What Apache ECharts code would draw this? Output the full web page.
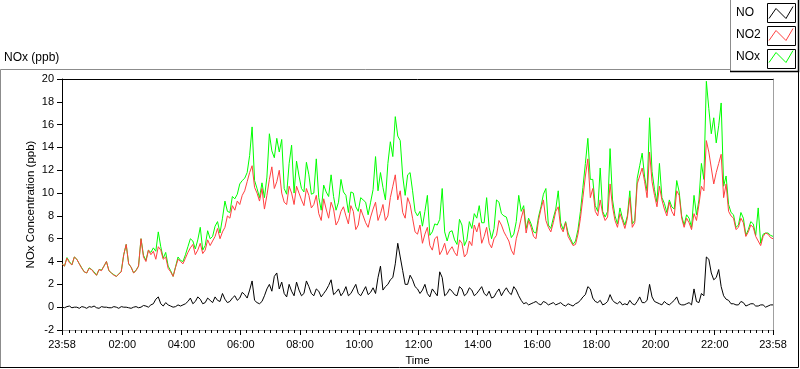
<!DOCTYPE html>
<html><head><meta charset="utf-8">
<script src="https://cdn.jsdelivr.net/npm/echarts@6/dist/echarts.min.js"></script>
<style>html,body{margin:0;padding:0;background:#fff}#c{width:800px;height:369px}</style>
</head><body><div id="c"></div>
<script>
// ---- data (one sample every 5 minutes, 23:58 -> 23:58) ----
const sampleStart = '23:58';
const sampleStepMinutes = 5;

const noValues = [
0.0,
-0.05,0.05,0.1,-0.05,0.0,0.0,-0.1,0.05,0.0,-0.1,0.05,0.0,
0.1,-0.05,-0.1,0.05,0.0,0.0,-0.05,-0.05,0.05,0.0,-0.1,0.05,
0.0,0.0,-0.05,-0.1,0.0,0.05,-0.05,0.0,0.15,0.1,0.0,0.2,
0.3,0.7,0.9,0.3,0.1,0.4,0.2,0.1,0.0,0.05,0.2,0.1,
0.2,0.3,0.5,0.8,0.3,0.5,0.9,0.7,0.3,0.4,0.8,0.6,
0.4,0.9,0.6,0.5,1.2,0.7,0.4,0.5,0.8,1.0,0.6,0.8,
1.3,1.1,0.8,1.5,2.3,0.6,0.4,0.3,0.5,1.0,1.6,2.0,
1.4,2.7,3.0,1.6,2.2,1.2,0.9,2.0,1.4,1.0,2.2,1.5,
1.0,1.2,2.3,1.8,1.2,1.0,1.6,1.4,0.9,1.2,1.5,1.9,
2.4,1.1,1.3,1.6,1.0,1.3,1.8,1.0,1.2,1.6,2.0,1.2,
1.0,1.4,1.8,1.1,1.3,1.7,1.2,2.6,3.6,1.5,1.8,2.0,
2.4,2.6,3.8,5.6,4.4,3.2,2.0,2.0,2.8,2.4,1.8,1.6,
1.2,1.5,2.0,1.2,0.9,1.6,1.3,1.0,3.1,2.6,1.0,1.2,
1.6,1.4,1.1,1.0,1.8,1.6,1.0,1.2,1.7,1.5,1.0,1.2,
1.5,1.8,1.2,1.0,1.4,0.8,0.9,1.3,1.6,1.0,1.4,1.7,
1.3,1.1,1.8,1.5,1.0,0.6,0.3,0.4,0.2,0.3,0.4,0.5,
0.3,0.2,0.5,0.4,0.2,0.3,0.4,0.2,0.3,0.4,0.2,0.1,
0.3,0.2,0.1,0.3,0.4,0.6,0.9,1.1,1.8,1.6,0.8,0.5,
0.4,0.6,0.2,0.3,0.5,1.1,0.6,0.4,0.3,0.5,0.2,0.3,
0.2,0.6,0.3,0.2,0.5,0.9,0.4,0.4,0.6,2.0,0.9,0.5,
0.4,0.3,0.2,0.5,0.3,0.2,0.4,0.6,0.9,0.3,0.2,0.2,
0.3,0.4,0.2,1.6,0.5,0.4,1.2,1.0,4.4,4.2,3.0,2.4,
2.6,3.3,1.8,1.0,0.7,0.6,0.3,0.3,0.2,0.2,0.5,0.4,
0.1,0.2,0.3,0.3,0.1,0.1,0.2,0.2,0.0,0.1,0.2,0.2];

const no2Values = [
3.8,
3.6,4.3,3.9,3.7,4.4,4.2,3.8,3.4,3.1,3.0,3.4,3.3,
3.0,2.8,3.3,3.2,3.6,4.0,3.2,3.0,2.8,2.7,2.9,3.1,
4.6,5.5,3.8,3.5,3.0,3.2,3.6,6.0,4.4,4.0,5.0,4.6,
4.9,4.2,5.3,5.0,4.2,4.4,3.4,3.1,2.7,3.5,4.2,4.0,
3.8,4.3,4.8,5.2,5.5,4.6,5.0,5.6,4.7,5.0,5.9,5.4,
5.8,6.2,6.9,6.0,6.6,7.0,8.0,7.8,8.9,8.5,9.3,9.0,
9.8,10.2,11.0,11.8,12.4,10.5,10.0,9.3,10.4,8.6,9.8,11.2,
12.3,10.4,11.0,12.0,10.0,9.2,9.0,10.6,10.0,9.0,10.6,10.0,
9.4,8.9,10.4,9.8,8.7,9.0,9.8,8.2,7.6,9.5,8.6,7.8,
9.2,8.6,7.2,7.6,8.4,8.8,8.0,7.3,8.9,8.4,6.8,7.2,
8.6,8.0,7.4,7.0,7.9,8.6,9.2,7.6,8.2,9.0,7.6,8.0,
9.6,10.6,11.6,9.4,10.2,8.3,7.8,9.6,9.0,7.8,6.6,6.4,
7.2,5.6,6.4,7.0,5.4,5.0,6.0,6.2,4.6,5.0,5.6,4.6,
5.0,5.3,4.8,4.5,5.9,5.6,4.4,4.7,5.8,5.4,7.2,6.6,
7.4,5.6,6.2,7.0,5.6,5.2,6.0,6.3,7.6,7.2,6.6,6.2,
5.8,5.0,4.6,6.0,6.8,7.8,8.6,6.5,7.6,7.0,6.2,6.0,
7.6,8.6,9.4,7.6,7.0,6.6,7.4,8.4,8.8,7.0,6.6,7.4,
6.2,5.8,5.4,5.5,6.4,7.8,9.6,11.5,13.0,9.6,10.4,8.4,
8.0,9.4,8.2,7.6,7.9,10.8,8.8,7.6,7.0,8.2,7.6,6.9,
7.8,9.6,7.0,7.4,10.8,11.5,12.2,11.0,9.6,13.6,11.0,9.8,
8.8,10.6,9.4,8.6,8.0,9.2,8.4,8.0,10.2,9.8,7.8,7.0,
7.8,7.4,6.8,8.2,7.6,9.0,10.6,10.2,14.6,13.6,12.2,10.8,
11.8,12.6,13.4,9.6,10.8,8.4,8.0,7.8,6.8,7.0,7.8,7.4,
6.2,6.6,7.2,7.0,6.2,5.8,5.4,6.2,6.5,6.4,6.1,6.0];

const noxValues = [
3.8,
3.6,4.35,4.0,3.7,4.4,4.2,3.8,3.45,3.1,3.0,3.45,3.3,
3.1,2.8,3.3,3.25,3.6,4.0,3.2,3.0,2.85,2.7,2.9,3.15,
4.6,5.5,3.8,3.5,3.0,3.25,3.6,6.0,4.55,4.1,5.0,4.8,
5.2,4.9,6.6,5.3,4.3,4.8,3.6,3.2,2.7,3.55,4.4,4.1,
4.0,4.6,5.3,6.0,5.8,5.1,5.9,7.0,5.0,5.4,6.7,6.0,
6.2,7.1,7.5,6.5,7.8,9.3,8.4,8.3,9.7,9.5,9.9,10.8,
11.1,11.3,11.8,13.3,15.8,11.1,10.4,9.6,10.9,9.6,11.4,15.2,
13.7,13.1,14.8,13.6,14.7,10.4,9.9,12.6,14.2,10.0,12.8,11.5,
10.4,10.1,12.7,11.6,9.9,10.0,13.0,9.6,8.5,10.7,10.1,9.7,
11.6,9.7,8.5,9.2,11.2,10.1,9.8,8.3,10.1,10.0,8.8,8.4,
9.6,9.4,9.2,8.1,9.2,10.3,13.2,10.2,11.8,10.5,9.4,12.6,
14.5,13.2,16.7,15.0,14.6,11.5,9.8,11.6,11.8,10.2,8.4,8.0,
8.4,7.1,8.4,9.8,6.3,6.6,7.3,7.2,7.7,10.4,6.6,5.8,
6.6,6.7,5.9,5.5,7.7,7.2,5.4,5.9,7.5,6.9,8.2,7.8,
8.9,7.4,7.4,9.6,7.0,6.0,6.9,9.4,9.2,8.2,8.0,7.9,
7.1,6.1,6.4,7.5,9.8,8.4,8.9,6.9,7.8,7.3,6.6,6.5,
7.9,8.8,9.9,10.4,7.2,6.9,7.8,8.6,10.2,7.4,6.8,7.5,
6.5,6.0,5.5,5.8,6.8,8.4,10.5,12.6,14.8,11.2,11.2,8.9,
8.4,12.2,8.4,7.9,8.4,13.9,9.4,8.0,7.3,8.7,7.8,7.2,
8.0,10.2,7.3,7.6,11.3,12.4,13.5,11.4,10.2,16.6,11.9,10.3,
9.2,12.6,9.6,9.1,8.3,9.4,8.8,8.6,11.1,10.1,8.0,7.2,
8.1,7.8,7.0,9.8,8.1,9.4,12.6,11.2,19.8,17.4,15.2,16.6,
14.4,15.9,17.9,10.6,11.5,9.0,8.3,8.1,7.0,7.2,8.3,7.8,
6.3,6.8,7.5,7.3,6.3,8.7,5.6,6.4,6.5,6.5,6.3,6.2];

const seriesNames = ['NO', 'NO2', 'NOx'];
const timeTickLabels = ['23:58','02:00','04:00','06:00','08:00','10:00','12:00','14:00','16:00','18:00','20:00','22:00','23:58'];
const minorTickStepMinutes = 12;

// ---- helpers ----
function toMinuteAxis(labels) {
  // clock labels -> minutes relative to midnight of the plotted day (first label belongs to previous day)
  let offset = -1440, prev = -Infinity;
  return labels.map(function (lab) {
    const p = lab.split(':');
    const v = (+p[0]) * 60 + (+p[1]);
    if (v < prev) offset += 1440;
    prev = v;
    return v + offset;
  });
}
const majorTicks = toMinuteAxis(timeTickLabels);
const xMin = majorTicks[0], xMax = majorTicks[majorTicks.length - 1];
const startMinute = toMinuteAxis([sampleStart])[0];
const minorTicks = [];
for (let t = minorTickStepMinutes; t < xMax; t += minorTickStepMinutes) minorTicks.push(t);

function pairs(vals) { return vals.map(function (v, i) { return [startMinute + i * sampleStepMinutes, v]; }); }

const FONT = '"Liberation Sans", Arial, sans-serif';
const COLORS = { NO: '#000000', NO2: '#ff4040', NOx: '#00ff00' };
const GRAY = '#a0a0a0';

const chart = echarts.init(document.getElementById('c'), null, { renderer: 'canvas', width: 800, height: 369 });

const hiddenAxis = { axisLabel: { show: false }, splitLine: { show: false }, axisTick: { show: false } };

const option = {
  animation: false,
  backgroundColor: '#ffffff',
  textStyle: { fontFamily: FONT },
  title: {
    text: 'NOx (ppb)', left: 4, top: 52, padding: 0,
    textStyle: { fontSize: 12, fontWeight: 'normal', color: '#000', fontFamily: FONT }
  },
  legend: {
    orient: 'vertical', left: 736, top: 6, padding: 0, align: 'right',
    itemWidth: 24, itemHeight: 14, itemGap: 9, selectedMode: false,
    icon: 'path://M0,12L7,2L17,12L24,0',
    formatter: function (name) { return '{n|' + name + '}'; },
    textStyle: { fontSize: 12, color: '#000', fontFamily: FONT,
      rich: { n: { width: 28, align: 'left', fontSize: 12, color: '#000', fontFamily: FONT } } },
    itemStyle: { color: 'transparent', borderColor: 'inherit', borderWidth: 1 },
    data: seriesNames.map(function (n) { return { name: n, itemStyle: { color: 'transparent', borderColor: COLORS[n], borderWidth: 1 } }; })
  },
  grid: { left: 62, top: 79, right: 27, bottom: 39, outerBoundsMode: 'none', containLabel: false },
  xAxis: [
    {
      type: 'value', min: xMin, max: xMax, position: 'bottom',
      axisLine: { show: true, onZero: false, lineStyle: { color: GRAY, width: 1 } },
      axisTick: { show: true, customValues: majorTicks, length: 5, lineStyle: { color: '#000' } },
      axisLabel: {
        show: true, customValues: majorTicks, margin: 9, fontSize: 11, color: '#000', fontFamily: FONT,
        formatter: function (v) { const k = majorTicks.indexOf(v); return k >= 0 ? timeTickLabels[k] : ''; }
      },
      splitLine: { show: false },
      name: 'Time', nameLocation: 'middle', nameGap: 25, nameMoveOverlap: false,
      nameTextStyle: { fontSize: 11, color: '#000', fontFamily: FONT }
    },
    Object.assign({ type: 'value', min: xMin, max: xMax, position: 'bottom',
      axisLine: { show: false, onZero: false } }, hiddenAxis,
      { axisTick: { show: true, customValues: minorTicks, length: 3, lineStyle: { color: '#000' } } }),
    Object.assign({ type: 'value', min: xMin, max: xMax, position: 'top',
      axisLine: { show: true, onZero: false, lineStyle: { color: '#000', width: 1 } } }, hiddenAxis)
  ],
  yAxis: [
    {
      type: 'value', min: -2, max: 20, interval: 2, position: 'left',
      axisLine: { show: true, onZero: false, lineStyle: { color: '#000', width: 1 } },
      axisTick: { show: true, length: 5, lineStyle: { color: '#000' } },
      axisLabel: { margin: 8, fontSize: 11, color: '#000', fontFamily: FONT },
      splitLine: { show: false },
      name: 'NOx Concentration (ppb)', nameLocation: 'middle', nameGap: 25, nameMoveOverlap: false,
      nameTextStyle: { fontSize: 11.5, color: '#000', fontFamily: FONT }
    },
    Object.assign({ type: 'value', min: -2, max: 20, interval: 2, position: 'right',
      axisLine: { show: true, onZero: false, lineStyle: { color: GRAY, width: 1 } } }, hiddenAxis)
  ],
  series: [
    { name: 'NOx', type: 'line', data: pairs(noxValues), showSymbol: false, symbol: 'none',
      color: COLORS.NOx, lineStyle: { color: COLORS.NOx, width: 1 }, z: 2 },
    { name: 'NO2', type: 'line', data: pairs(no2Values), showSymbol: false, symbol: 'none',
      color: COLORS.NO2, lineStyle: { color: COLORS.NO2, width: 1 }, z: 3 },
    { name: 'NO', type: 'line', data: pairs(noValues), showSymbol: false, symbol: 'none',
      color: COLORS.NO, lineStyle: { color: COLORS.NO, width: 1 }, z: 4 }
  ],
  graphic: [
    { type: 'polyline', silent: true, z: 0, shape: { points: [[0.5, 368], [0.5, 69.5], [731, 69.5]] }, style: { stroke: '#8c8c8c', lineWidth: 1, fill: 'none' } },
    { type: 'polyline', silent: true, z: 0, shape: { points: [[0, 367.5], [798.5, 367.5], [798.5, 72]] }, style: { stroke: '#000', lineWidth: 1, fill: 'none' } },
    { type: 'rect', silent: true, z: 0, shape: { x: 731, y: 0, width: 67, height: 71 }, style: { fill: '#fff', stroke: 'none' } },
    { type: 'polyline', silent: true, z: 0, shape: { points: [[730.5, 0], [730.5, 71.5]] }, style: { stroke: '#8c8c8c', lineWidth: 1, fill: 'none' } },
    { type: 'polyline', silent: true, z: 0, shape: { points: [[730, 71.5], [798.5, 71.5], [798.5, 0]] }, style: { stroke: '#000', lineWidth: 1.5, fill: 'none' } },
    { type: 'rect', silent: true, z: 1, shape: { x: 767.5, y: 3.5, width: 28, height: 19 }, style: { fill: '#fff', stroke: '#000', lineWidth: 1 } },
    { type: 'rect', silent: true, z: 1, shape: { x: 767.5, y: 26.5, width: 28, height: 19 }, style: { fill: '#fff', stroke: '#000', lineWidth: 1 } },
    { type: 'rect', silent: true, z: 1, shape: { x: 767.5, y: 49.5, width: 28, height: 19 }, style: { fill: '#fff', stroke: '#000', lineWidth: 1 } }
  ]
};
chart.setOption(option);
</script></body></html>
